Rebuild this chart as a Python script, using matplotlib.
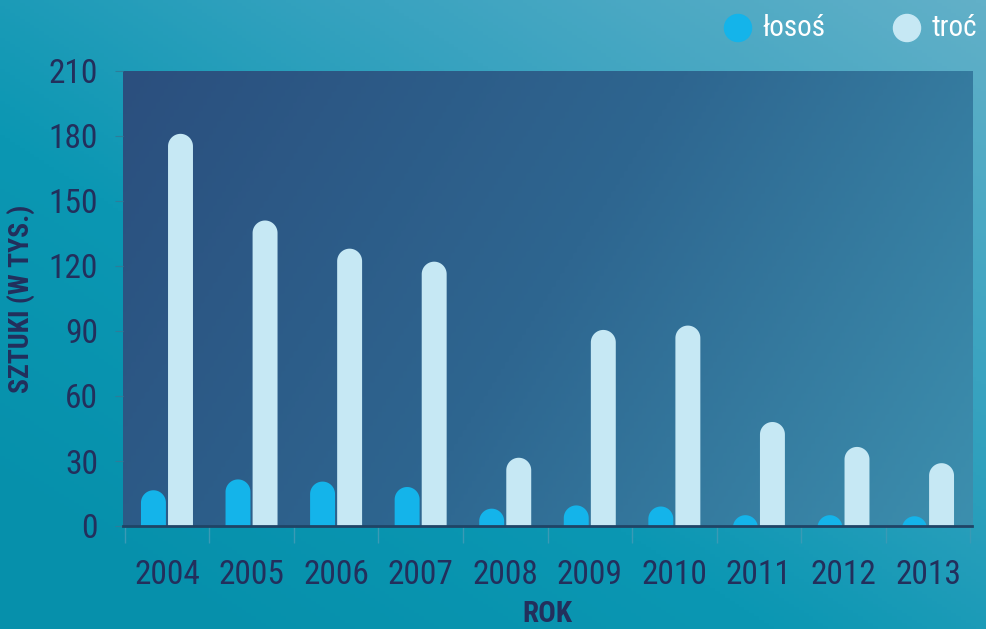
import numpy as np
import matplotlib
matplotlib.use('Agg')
import matplotlib.pyplot as plt
from matplotlib.patches import Polygon
from matplotlib import font_manager
from matplotlib.colors import LinearSegmentedColormap

years = ['2004', '2005', '2006', '2007', '2008', '2009', '2010', '2011', '2012', '2013']
losos = [16.5, 21.5, 20.5, 18, 8, 9.5, 9, 5, 5, 4.5]
troc = [181, 141, 128, 122, 31.5, 90.5, 92.5, 48, 36.5, 29]
series_names = ['łosoś', 'troć']
yticks = [0, 30, 60, 90, 120, 150, 180, 210]

# pick a narrow font if there is one
available = {f.name for f in font_manager.fontManager.ttflist}
font = 'DejaVu Sans'
for name in ['Roboto Condensed', 'Liberation Sans Narrow', 'Roboto']:
    if name in available:
        font = name
        break
plt.rcParams['font.family'] = [font, 'DejaVu Sans']

navy = '#232f5c'
c_losos = '#14b4ea'
c_troc = '#c6e8f4'

fig = plt.figure(figsize=(9.86, 6.29), dpi=100)

# background gradient (darker teal bottom-left, lighter top-right)
bg = fig.add_axes([0, 0, 1, 1], zorder=-10)
bg_cmap = LinearSegmentedColormap.from_list('bg', ['#0690ab', '#0b97b3', '#3aa3c0', '#62b0c8'])
gx, gy = np.meshgrid(np.linspace(0, 1, 200), np.linspace(0, 1, 200))
bg.imshow(np.clip(0.55 * gx + 0.55 * gy - 0.1, 0, 1), cmap=bg_cmap, aspect='auto',
          origin='lower', extent=[0, 1, 0, 1])
bg.set_xlim(0, 1)
bg.set_ylim(0, 1)
bg.axis('off')

ax = fig.add_axes([123 / 986, 103 / 629, 849 / 986, 455 / 629])
ax.set_xlim(-0.52, 9.52)
ax.set_ylim(0, 210)

# plot area gradient
pa_cmap = LinearSegmentedColormap.from_list('pa', ['#2b4f7e', '#2e6690', '#3c8fae'])
ax.imshow(0.75 * gx + 0.25 * (1 - gy), cmap=pa_cmap, aspect='auto', origin='lower',
          extent=[-0.52, 9.52, 0, 210], zorder=0)

# bars with a round top
x = np.arange(len(years))
w = 0.295
aspect = (210 / 455) / (10.04 / 849)
rx = w / 2
ry = rx * aspect
t = np.linspace(0, np.pi, 40)
for vals, off, col in [(losos, -0.16, c_losos), (troc, 0.16, c_troc)]:
    for xi, v in zip(x, vals):
        cx = xi + off
        top = v - ry
        arc = np.column_stack([cx + rx * np.cos(t), top + ry * np.sin(t)])
        pts = np.vstack([[cx + rx, -5], arc, [cx - rx, -5]])
        ax.add_patch(Polygon(pts, closed=True, fc=col, ec='none', zorder=3))

ax.axhline(0, color='#1f4466', lw=2, zorder=4, clip_on=False)

for s in ax.spines.values():
    s.set_visible(False)

ax.set_yticks(yticks)
ax.set_yticklabels([str(t) for t in yticks], fontsize=24, color=navy)
ax.set_xticks(x)
ax.set_xticklabels(years, fontsize=24, color=navy)
ax.set_xticks(np.arange(len(years) + 1) - 0.5, minor=True)
ax.tick_params(axis='x', which='major', length=0, pad=24)
ax.tick_params(axis='x', which='minor', length=12, color='#3a9ab5', width=1)
ax.tick_params(axis='y', length=6, color='#2d7d9a', pad=12)

ax.set_ylabel('SZTUKI (W TYS.)', fontsize=20, fontweight='bold', color=navy, labelpad=10)
ax.set_xlabel('ROK', fontsize=21, fontweight='bold', color=navy, labelpad=6)

# legend
fig.text(762 / 986, 1 - 28 / 629, series_names[0], color='white', fontsize=21, va='center')
fig.text(932 / 986, 1 - 28 / 629, series_names[1], color='white', fontsize=21, va='center')
bg.scatter([738 / 986, 907 / 986], [1 - 28 / 629, 1 - 28 / 629], s=380,
           c=[c_losos, c_troc], zorder=5)

fig.savefig('out.png', dpi=100)
